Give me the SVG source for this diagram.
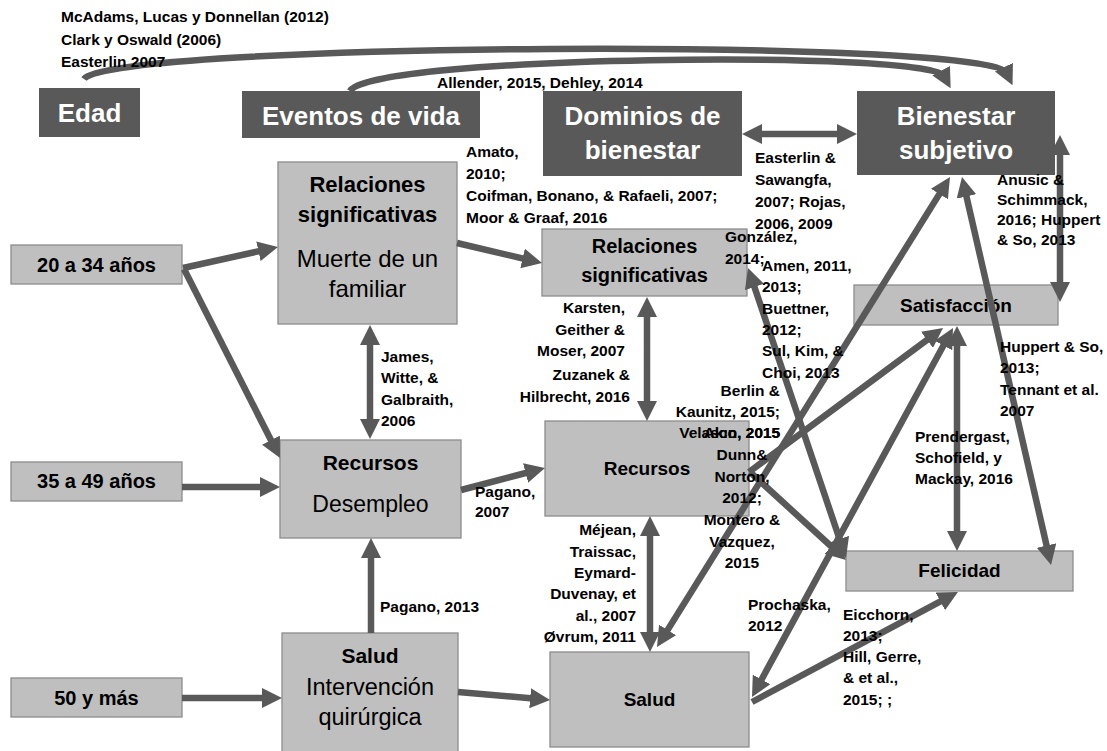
<svg xmlns="http://www.w3.org/2000/svg" width="1107" height="751" viewBox="0 0 1107 751">
  <style>
    .hdr rect { fill: #595959; }
    .hdr text { fill: #ffffff; font-family: 'Liberation Sans', Arial, sans-serif; font-weight: bold; font-size: 26px; text-anchor: middle; }
    .box rect { fill: #bfbfbf; stroke: #8c8c8c; stroke-width: 1.3; }
    .box text { fill: #000000; font-family: 'Liberation Sans', Arial, sans-serif; text-anchor: middle; }
    .b { font-weight: bold; }
    .conn line, .conn path { stroke: #595959; stroke-width: 6.5; fill: none; }
    .e { marker-end: url(#ah); }
    .s { marker-start: url(#ah); }
    .lbl { font-family: 'Liberation Sans', Arial, sans-serif; font-weight: bold; font-size: 15.5px; fill: #000000; }
    .r { text-anchor: end; }
    .m { text-anchor: middle; }
  </style>
  <defs>
    <marker id="ah" viewBox="0 0 20 20" markerUnits="userSpaceOnUse" markerWidth="20" markerHeight="20" refX="6" refY="10" orient="auto-start-reverse">
      <path d="M0,0 L20,10 L0,20 z" fill="#595959"/>
    </marker>
  </defs>

  <rect width="1107" height="751" fill="#ffffff"/>

  <!-- header concepts -->
  <g id="edad" class="hdr"><rect x="39" y="88" width="101" height="49"/><text x="89.5" y="122">Edad</text></g>
  <g id="eventos" class="hdr"><rect x="242" y="91" width="238" height="47"/><text x="361" y="125">Eventos de vida</text></g>
  <g id="dominios" class="hdr"><rect x="543" y="91" width="199" height="85"/><text x="642.5" y="125">Dominios de</text><text x="642.5" y="159">bienestar</text></g>
  <g id="bienestar" class="hdr"><rect x="857" y="91" width="198" height="84"/><text x="956" y="125">Bienestar</text><text x="956" y="159">subjetivo</text></g>

  <!-- age groups -->
  <g id="edad-20-34" class="box"><rect x="11" y="245" width="171" height="39"/><text class="b" x="96.5" y="272" font-size="20">20 a 34 años</text></g>
  <g id="edad-35-49" class="box"><rect x="11" y="462" width="171" height="39"/><text class="b" x="96.5" y="488" font-size="20">35 a 49 años</text></g>
  <g id="edad-50" class="box"><rect x="11" y="678" width="171" height="39"/><text class="b" x="96.5" y="705" font-size="20">50 y más</text></g>

  <!-- life events -->
  <g id="evento-relaciones" class="box"><rect x="278" y="162" width="179" height="162"/>
    <text class="b" x="367.5" y="192" font-size="22">Relaciones</text>
    <text class="b" x="367.5" y="222" font-size="22">significativas</text>
    <text x="367.5" y="267" font-size="24">Muerte de un</text>
    <text x="367.5" y="297" font-size="24">familiar</text></g>
  <g id="evento-recursos" class="box"><rect x="280" y="440" width="181" height="98"/>
    <text class="b" x="370.5" y="470" font-size="21">Recursos</text>
    <text x="370.5" y="512" font-size="23">Desempleo</text></g>
  <g id="evento-salud" class="box"><rect x="282" y="633" width="176" height="122"/>
    <text class="b" x="370" y="663" font-size="21">Salud</text>
    <text x="370" y="695" font-size="23.5">Intervención</text>
    <text x="370" y="725" font-size="23.5">quirúrgica</text></g>

  <!-- wellbeing domains -->
  <g id="dominio-relaciones" class="box"><rect x="542" y="229" width="205" height="67"/>
    <text class="b" x="644.5" y="253" font-size="20">Relaciones</text>
    <text class="b" x="644.5" y="282" font-size="20">significativas</text></g>
  <g id="dominio-recursos" class="box"><rect x="545" y="421" width="204" height="95"/><text class="b" x="647" y="475" font-size="19">Recursos</text></g>
  <g id="dominio-salud" class="box"><rect x="550" y="652" width="199" height="95"/><text class="b" x="649.5" y="706" font-size="19">Salud</text></g>

  <!-- subjective wellbeing components -->
  <g id="satisfaccion" class="box"><rect x="854" y="285" width="204" height="40"/><text class="b" x="956" y="312" font-size="19">Satisfacción</text></g>
  <g id="felicidad" class="box"><rect x="846" y="551" width="227" height="40"/><text class="b" x="959.5" y="577" font-size="19">Felicidad</text></g>

  <!-- connectors -->
  <g id="connectors" class="conn">
    <path class="e" d="M84,79 C110,42 990,38 1006.5,72.6"/>
    <path class="e" d="M350,91 C370,55 930,50 944,76"/>
    <line class="s e" x1="756" y1="134" x2="843" y2="134"/>
    <line class="e" x1="183" y1="268" x2="264.3" y2="250"/>
    <line class="e" x1="184" y1="269" x2="273.7" y2="445.5"/>
    <line class="e" x1="182" y1="487" x2="266" y2="487"/>
    <line class="e" x1="182" y1="698" x2="268" y2="698"/>
    <line class="e" x1="371" y1="633" x2="371" y2="552"/>
    <line class="s e" x1="370" y1="339" x2="370" y2="425"/>
    <line class="e" x1="457" y1="243" x2="528.4" y2="259.8"/>
    <line class="e" x1="461" y1="490" x2="531.4" y2="471.5"/>
    <line class="e" x1="458" y1="692" x2="536.1" y2="698.8"/>
    <line class="s e" x1="647" y1="311" x2="647" y2="407"/>
    <line class="s e" x1="650" y1="530" x2="650" y2="638"/>
    <line class="s e" x1="664.4" y1="635.1" x2="942.6" y2="188.9"/>
    <line class="s e" x1="965.1" y1="190.6" x2="1047.9" y2="551.3"/>
    <line class="s e" x1="1060" y1="149" x2="1060" y2="288"/>
    <line class="s e" x1="957" y1="340" x2="957" y2="537"/>
    <line class="e" x1="749" y1="472" x2="931.8" y2="336.3"/>
    <line class="s e" x1="758.7" y1="684.7" x2="946.3" y2="340.3"/>
    <line class="e" x1="752" y1="702" x2="945.6" y2="598.6"/>
    <line class="s e" x1="752.5" y1="281.3" x2="841.5" y2="544.7"/>
    <line class="e" x1="750" y1="472" x2="835.7" y2="550.5"/>
  </g>

  <!-- citations -->
  <g id="citas">
    <text class="lbl" x="61" y="22">McAdams, Lucas y Donnellan (2012)</text>
    <text class="lbl" x="61" y="45">Clark y Oswald (2006)</text>
    <text class="lbl" x="61" y="67">Easterlin 2007</text>
    <text class="lbl" x="437" y="88" font-size="17">Allender, 2015, Dehley, 2014</text>
    <text class="lbl" x="755"><tspan x="755" y="163">Easterlin &amp;</tspan><tspan x="755" y="185">Sawangfa,</tspan><tspan x="755" y="207">2007; Rojas,</tspan><tspan x="755" y="229">2006, 2009</tspan></text>
    <text class="lbl" x="466"><tspan x="466" y="157">Amato,</tspan><tspan x="466" y="179">2010;</tspan><tspan x="466" y="201">Coifman, Bonano, &amp; Rafaeli, 2007;</tspan><tspan x="466" y="223">Moor &amp; Graaf, 2016</tspan></text>
    <text class="lbl" x="725"><tspan x="725" y="242">González,</tspan><tspan x="725" y="264">2014;</tspan></text>
    <text class="lbl" x="762"><tspan x="762" y="271">Amen, 2011,</tspan><tspan x="762" y="292">2013;</tspan><tspan x="762" y="314">Buettner,</tspan><tspan x="762" y="335">2012;</tspan><tspan x="762" y="356">Sul, Kim, &amp;</tspan><tspan x="762" y="378">Choi, 2013</tspan></text>
    <text class="lbl" x="997" font-size="15"><tspan x="997" y="185">Anusic &amp;</tspan><tspan x="997" y="205">Schimmack,</tspan><tspan x="997" y="225">2016; Huppert</tspan><tspan x="997" y="245">&amp; So, 2013</tspan></text>
    <text class="lbl" x="1000"><tspan x="1000" y="352">Huppert &amp; So,</tspan><tspan x="1000" y="373">2013;</tspan><tspan x="1000" y="395">Tennant et al.</tspan><tspan x="1000" y="416">2007</tspan></text>
    <text class="lbl" x="915"><tspan x="915" y="442">Prendergast,</tspan><tspan x="915" y="463">Schofield, y</tspan><tspan x="915" y="484">Mackay, 2016</tspan></text>
    <text class="lbl" x="381"><tspan x="381" y="362">James,</tspan><tspan x="381" y="383">Witte, &amp;</tspan><tspan x="381" y="405">Galbraith,</tspan><tspan x="381" y="426">2006</tspan></text>
    <text class="lbl r" x="625"><tspan x="625" y="313">Karsten,</tspan><tspan x="625" y="335">Geither &amp;</tspan><tspan x="625" y="356">Moser, 2007</tspan></text>
    <text class="lbl r" x="630"><tspan x="630" y="380">Zuzanek &amp;</tspan><tspan x="630" y="402">Hilbrecht, 2016</tspan></text>
    <text class="lbl r" x="780"><tspan x="780" y="396">Berlin &amp;</tspan><tspan x="780" y="417">Kaunitz, 2015;</tspan><tspan x="780" y="438">Velasco, 2015</tspan></text>
    <text class="lbl m" x="742"><tspan x="742" y="438">Akın, 2015</tspan><tspan x="742" y="460">Dunn&amp;</tspan><tspan x="742" y="482">Norton,</tspan><tspan x="742" y="503">2012;</tspan><tspan x="742" y="525">Montero &amp;</tspan><tspan x="742" y="547">Vazquez,</tspan><tspan x="742" y="568">2015</tspan></text>
    <text class="lbl r" x="636"><tspan x="636" y="535">Méjean,</tspan><tspan x="636" y="557">Traissac,</tspan><tspan x="636" y="578">Eymard-</tspan><tspan x="636" y="599">Duvenay, et</tspan><tspan x="636" y="621">al., 2007</tspan><tspan x="636" y="642">Øvrum, 2011</tspan></text>
    <text class="lbl" x="748"><tspan x="748" y="610">Prochaska,</tspan><tspan x="748" y="631">2012</tspan></text>
    <text class="lbl" x="843"><tspan x="843" y="620">Eicchorn,</tspan><tspan x="843" y="641">2013;</tspan><tspan x="843" y="662">Hill, Gerre,</tspan><tspan x="843" y="683">&amp; et al.,</tspan><tspan x="843" y="705">2015; ;</tspan></text>
    <text class="lbl" x="380" y="612">Pagano, 2013</text>
    <text class="lbl" x="475"><tspan x="475" y="497">Pagano,</tspan><tspan x="475" y="517">2007</tspan></text>
  </g>
</svg>
